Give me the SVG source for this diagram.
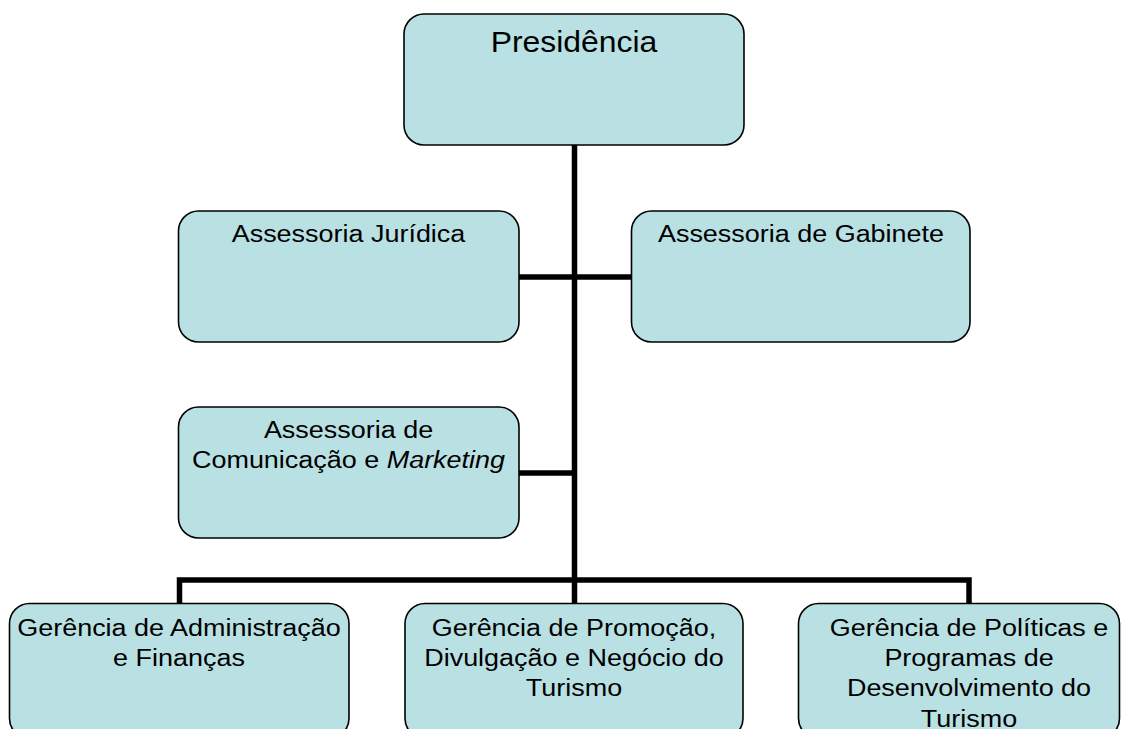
<svg xmlns="http://www.w3.org/2000/svg" width="1128" height="729" viewBox="0 0 1128 729">
<style>
.box{fill:#B9E0E3;stroke:#000;stroke-width:1.6}
.t{font-family:"Liberation Sans",Arial,sans-serif;font-size:24.5px;fill:#000;text-anchor:middle}
.big{font-size:29px}
.ln{stroke:#000;stroke-width:5.5;fill:none;stroke-linecap:butt;stroke-linejoin:miter}
</style>
<rect width="1128" height="729" fill="#fff"/>
<g id="connectors">
<line class="ln" x1="574.5" y1="145" x2="574.5" y2="603"/>
<line class="ln" x1="519" y1="277" x2="631" y2="277"/>
<line class="ln" x1="519" y1="473" x2="574.5" y2="473"/>
<polyline class="ln" points="179.5,603 179.5,580 969,580 969,603"/>
</g>
<g id="presidencia">
<rect class="box" x="404" y="14" width="340" height="131" rx="20"/>
<text class="t big" transform="translate(574 51.5) scale(1.1 1)">Presidência</text>
</g>
<g id="assessoria-juridica">
<rect class="box" x="178.5" y="211" width="340.5" height="131" rx="20"/>
<text class="t" transform="translate(348.5 242) scale(1.1 1)">Assessoria Jurídica</text>
</g>
<g id="assessoria-gabinete">
<rect class="box" x="631.5" y="211" width="338.5" height="131" rx="20"/>
<text class="t" transform="translate(801 242) scale(1.1 1)">Assessoria de Gabinete</text>
</g>
<g id="assessoria-comunicacao">
<rect class="box" x="178.5" y="407" width="340.5" height="131" rx="20"/>
<text class="t" transform="translate(348.5 438.3) scale(1.1 1)"><tspan x="0" y="0">Assessoria de</tspan><tspan x="0" y="30">Comunicação e <tspan font-style="italic">Marketing</tspan></tspan></text>
</g>
<g id="gerencia-administracao">
<rect class="box" x="9.5" y="603.5" width="339.5" height="135" rx="20"/>
<text class="t" transform="translate(179 635.5) scale(1.1 1)"><tspan x="0" y="0">Gerência de Administração</tspan><tspan x="0" y="30.5">e Finanças</tspan></text>
</g>
<g id="gerencia-promocao">
<rect class="box" x="405" y="603.5" width="338" height="135" rx="20"/>
<text class="t" transform="translate(574 635.5) scale(1.1 1)"><tspan x="0" y="0">Gerência de Promoção,</tspan><tspan x="0" y="30.5">Divulgação e Negócio do</tspan><tspan x="0" y="61">Turismo</tspan></text>
</g>
<g id="gerencia-politicas">
<rect class="box" x="798.5" y="603.5" width="321" height="135" rx="20"/>
<text class="t" transform="translate(969 635.5) scale(1.1 1)"><tspan x="0" y="0">Gerência de Políticas e</tspan><tspan x="0" y="30.5">Programas de</tspan><tspan x="0" y="61">Desenvolvimento do</tspan><tspan x="0" y="91.5">Turismo</tspan></text>
</g>
</svg>
